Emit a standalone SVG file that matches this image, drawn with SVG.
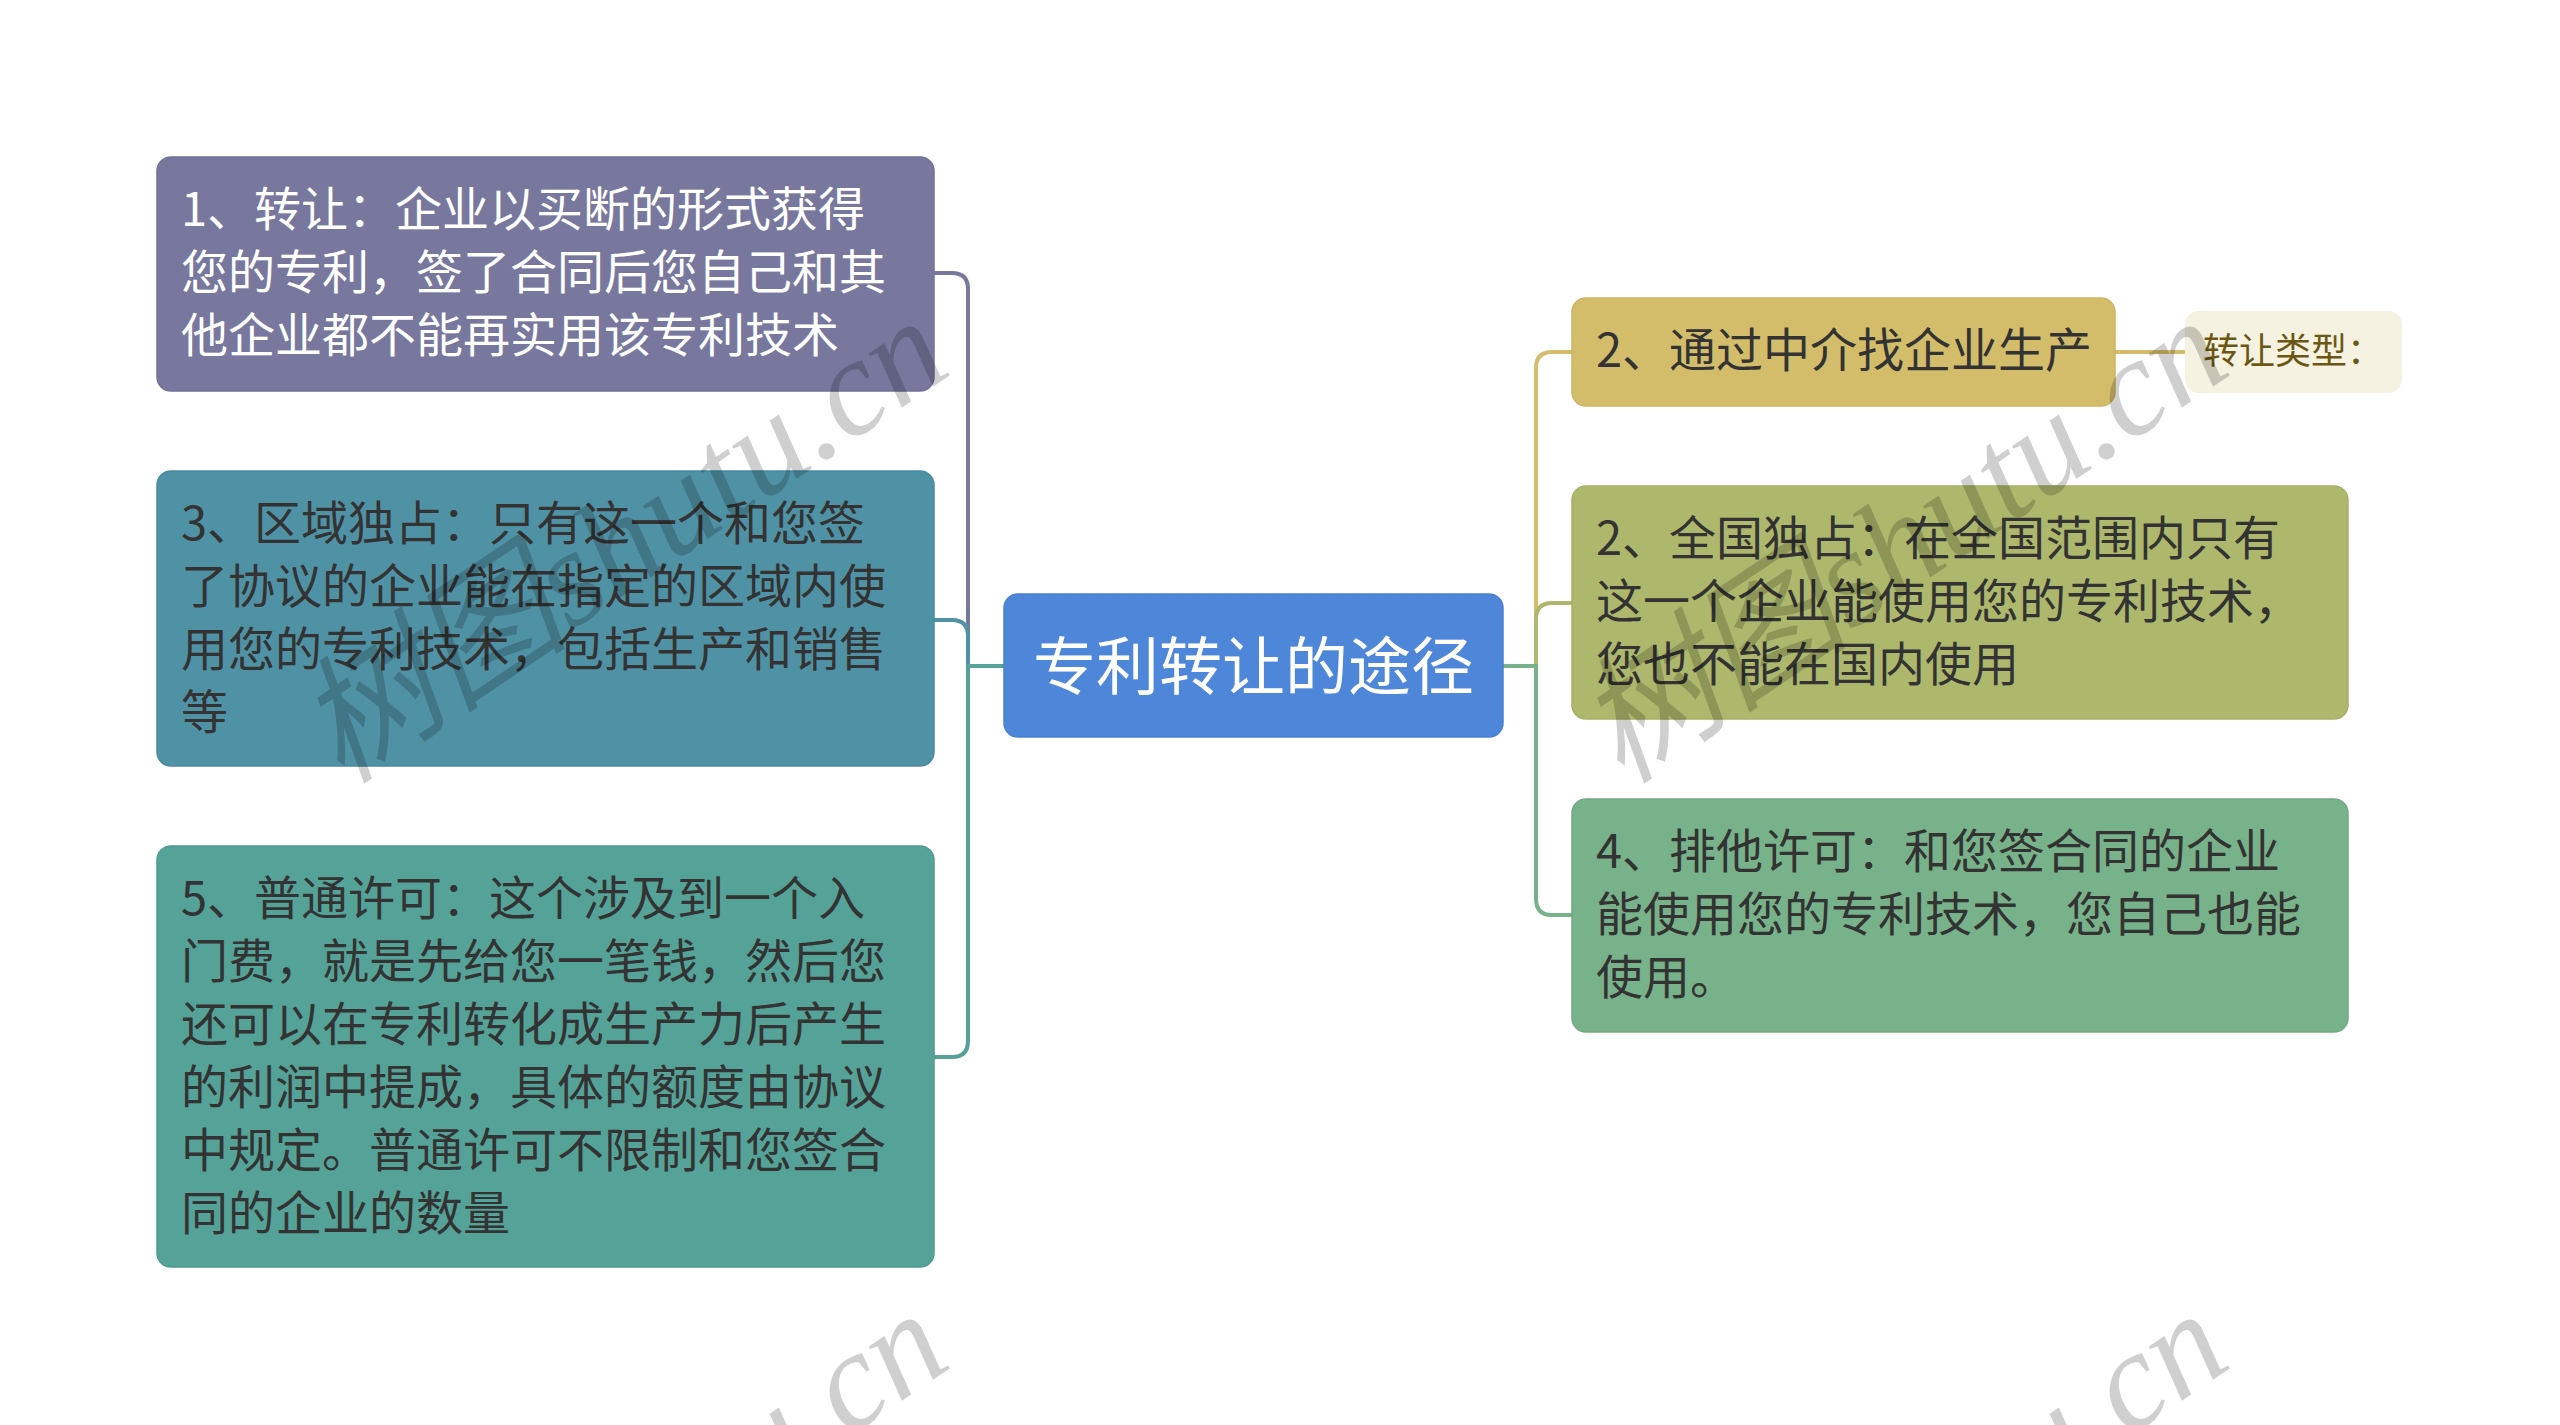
<svg xmlns="http://www.w3.org/2000/svg" width="2560" height="1425" viewBox="0 0 2560 1425">
<style>
.t{font-family:"Noto Sans CJK SC","Noto Sans",sans-serif;font-size:47px;fill:#333333}
.w{fill:#ffffff}
.c{fill:none;stroke-width:4;stroke-linecap:round;stroke-linejoin:round}
.wm{font-family:"Liberation Serif","Noto Sans CJK SC",serif;font-style:italic;font-size:138px;fill:#000000;fill-opacity:0.19}
</style>
<rect width="2560" height="1425" fill="#ffffff"/>
<g id="connectors">
<path class="c" stroke="#78789e" d="M1004 666 H968 V289 Q968 273 952 273 H934"/>
<path class="c" stroke="#5092a5" d="M1004 666 H968 V636 Q968 620 952 620 H934"/>
<path class="c" stroke="#55a398" d="M1004 666 H968 V1041 Q968 1057 952 1057 H934"/>
<path class="c" stroke="#d4bd6a" d="M1503 666 H1536 V368 Q1536 352 1552 352 H1572"/>
<path class="c" stroke="#aeb86c" d="M1503 666 H1536 V619 Q1536 603 1552 603 H1572"/>
<path class="c" stroke="#78b28a" d="M1503 666 H1536 V899 Q1536 915 1552 915 H1572"/>
<path class="c" stroke="#d4bd6a" d="M2115 352 H2185"/>
</g>
<g id="center">
<rect x="1004" y="594" width="499" height="143" rx="14" fill="#4e86d9" stroke="#4a80cf" stroke-width="1.5"/>
<text x="1253.5" y="689" text-anchor="middle" style="font-family:'Noto Sans CJK SC','Noto Sans',sans-serif;font-size:63px;fill:#ffffff">专利转让的途径</text>
</g>
<g id="node1">
<rect x="157" y="157" width="777" height="234" rx="14" fill="#78789e" stroke="#727298" stroke-width="1.5"/>
<text class="t w" x="181" y="226">1、转让：企业以买断的形式获得</text>
<text class="t w" x="181" y="289">您的专利，签了合同后您自己和其</text>
<text class="t w" x="181" y="352">他企业都不能再实用该专利技术</text>
</g>
<g id="node3">
<rect x="157" y="471" width="777" height="295" rx="14" fill="#5092a5" stroke="#4a8b9e" stroke-width="1.5"/>
<text class="t" x="181" y="540">3、区域独占：只有这一个和您签</text>
<text class="t" x="181" y="603">了协议的企业能在指定的区域内使</text>
<text class="t" x="181" y="666">用您的专利技术，包括生产和销售</text>
<text class="t" x="181" y="729">等</text>
</g>
<g id="node5">
<rect x="157" y="846" width="777" height="421" rx="14" fill="#55a398" stroke="#4f9b90" stroke-width="1.5"/>
<text class="t" x="181" y="915">5、普通许可：这个涉及到一个入</text>
<text class="t" x="181" y="978">门费，就是先给您一笔钱，然后您</text>
<text class="t" x="181" y="1041">还可以在专利转化成生产力后产生</text>
<text class="t" x="181" y="1104">的利润中提成，具体的额度由协议</text>
<text class="t" x="181" y="1167">中规定。普通许可不限制和您签合</text>
<text class="t" x="181" y="1230">同的企业的数量</text>
</g>
<g id="node2a">
<rect x="1572" y="298" width="543" height="108" rx="14" fill="#d4bd6a" stroke="#cdb563" stroke-width="1.5"/>
<text class="t" x="1596" y="367">2、通过中介找企业生产</text>
</g>
<g id="label">
<rect x="2185" y="311" width="217" height="82" rx="14" fill="#f5f2e1"/>
<text x="2203" y="364" style="font-family:'Noto Sans CJK SC','Noto Sans',sans-serif;font-size:36px;fill:#6b5713">转让类型：</text>
</g>
<g id="node2b">
<rect x="1572" y="486" width="776" height="233" rx="14" fill="#aeb86c" stroke="#a7b165" stroke-width="1.5"/>
<text class="t" x="1596" y="555">2、全国独占：在全国范围内只有</text>
<text class="t" x="1596" y="618">这一个企业能使用您的专利技术，</text>
<text class="t" x="1596" y="681">您也不能在国内使用</text>
</g>
<g id="node4">
<rect x="1572" y="799" width="776" height="233" rx="14" fill="#78b28a" stroke="#71ab83" stroke-width="1.5"/>
<text class="t" x="1596" y="868">4、排他许可：和您签合同的企业</text>
<text class="t" x="1596" y="931">能使用您的专利技术，您自己也能</text>
<text class="t" x="1596" y="994">使用。</text>
</g>
<g id="watermark">
<text class="wm" text-anchor="end" transform="translate(955 372) rotate(-34)">树图shutu.cn</text>
<text class="wm" text-anchor="end" transform="translate(2235 372) rotate(-34)">树图shutu.cn</text>
<text class="wm" text-anchor="end" transform="translate(955 1365) rotate(-34)">树图shutu.cn</text>
<text class="wm" text-anchor="end" transform="translate(2235 1365) rotate(-34)">树图shutu.cn</text>
</g>
</svg>
